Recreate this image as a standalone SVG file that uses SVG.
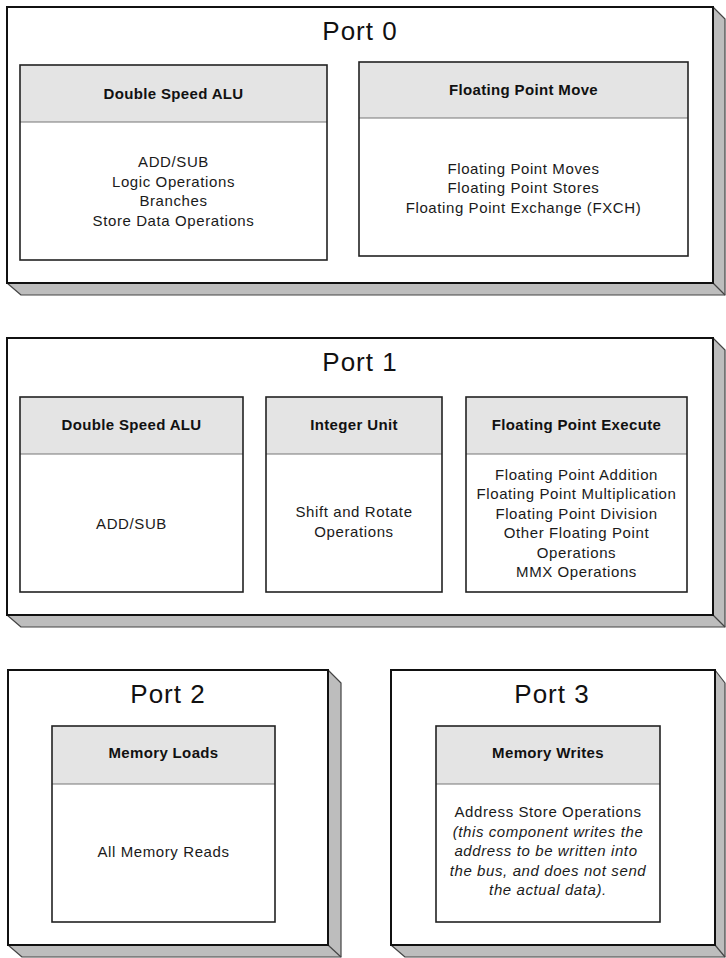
<svg xmlns="http://www.w3.org/2000/svg" width="726" height="958" viewBox="0 0 726 958">
<style>
.front{fill:#ffffff;stroke:#111;stroke-width:2}
.shadow{fill:#bdbdbd;stroke:#444;stroke-width:1.2;stroke-linejoin:round}
.edge{stroke:#444;stroke-width:1.2;fill:none}
.box{fill:#ffffff;stroke:#222;stroke-width:1.6}
.hdr{fill:#e4e4e4;stroke:none}
.div{stroke:#777;stroke-width:1.2}
.title{font-family:"Liberation Sans",Arial,sans-serif;font-size:26px;letter-spacing:1px;fill:#111;text-anchor:middle}
.h{font-family:"Liberation Sans",Arial,sans-serif;font-size:15px;font-weight:bold;letter-spacing:0.35px;fill:#111;text-anchor:middle}
.t{font-family:"Liberation Sans",Arial,sans-serif;font-size:15px;letter-spacing:0.6px;fill:#1a1a1a;text-anchor:middle}
.i{font-style:italic}
</style>
<rect width="726" height="958" fill="#ffffff"/>

<g id="port0">
  <polygon class="shadow" points="7,283 21,295 725,295 725,19 713,7 713,283"/>
  <line class="edge" x1="713" y1="283" x2="725" y2="295"/>
  <rect class="front" x="7" y="7" width="706" height="276"/>
  <text class="title" x="360" y="39.5">Port 0</text>
</g>
<g id="p0-alu">
  <rect class="hdr" x="20" y="65" width="307" height="57"/>
  <line class="div" x1="20" y1="122" x2="327" y2="122"/>
  <rect class="box" x="20" y="65" width="307" height="195" fill="none" style="fill:none"/>
  <text class="h" x="173.5" y="98.5">Double Speed ALU</text>
  <text class="t" x="173.5" y="167">ADD/SUB</text>
  <text class="t" x="173.5" y="186.5">Logic Operations</text>
  <text class="t" x="173.5" y="206">Branches</text>
  <text class="t" x="173.5" y="225.5">Store Data Operations</text>
</g>
<g id="p0-fpmove">
  <rect class="hdr" x="359" y="62" width="329" height="56"/>
  <line class="div" x1="359" y1="118" x2="688" y2="118"/>
  <rect class="box" x="359" y="62" width="329" height="194" style="fill:none"/>
  <text class="h" x="523.5" y="95">Floating Point Move</text>
  <text class="t" x="523.5" y="173.5">Floating Point Moves</text>
  <text class="t" x="523.5" y="193">Floating Point Stores</text>
  <text class="t" x="523.5" y="212.5">Floating Point Exchange (FXCH)</text>
</g>

<g id="port1">
  <polygon class="shadow" points="7,615 21,627 725,627 725,350 713,338 713,615"/>
  <line class="edge" x1="713" y1="615" x2="725" y2="627"/>
  <rect class="front" x="7" y="338" width="706" height="277"/>
  <text class="title" x="360" y="370.5">Port 1</text>
</g>
<g id="p1-alu">
  <rect class="hdr" x="20" y="397" width="223" height="57"/>
  <line class="div" x1="20" y1="454" x2="243" y2="454"/>
  <rect class="box" x="20" y="397" width="223" height="195" style="fill:none"/>
  <text class="h" x="131.5" y="430">Double Speed ALU</text>
  <text class="t" x="131.5" y="528.5">ADD/SUB</text>
</g>
<g id="p1-int">
  <rect class="hdr" x="266" y="397" width="176" height="57"/>
  <line class="div" x1="266" y1="454" x2="442" y2="454"/>
  <rect class="box" x="266" y="397" width="176" height="195" style="fill:none"/>
  <text class="h" x="354" y="430">Integer Unit</text>
  <text class="t" x="354" y="517">Shift and Rotate</text>
  <text class="t" x="354" y="536.5">Operations</text>
</g>
<g id="p1-fpexec">
  <rect class="hdr" x="466" y="397" width="221" height="57"/>
  <line class="div" x1="466" y1="454" x2="687" y2="454"/>
  <rect class="box" x="466" y="397" width="221" height="195" style="fill:none"/>
  <text class="h" x="576.5" y="430">Floating Point Execute</text>
  <text class="t" x="576.5" y="479.5">Floating Point Addition</text>
  <text class="t" x="576.5" y="499">Floating Point Multiplication</text>
  <text class="t" x="576.5" y="518.5">Floating Point Division</text>
  <text class="t" x="576.5" y="538">Other Floating Point</text>
  <text class="t" x="576.5" y="557.5">Operations</text>
  <text class="t" x="576.5" y="577">MMX Operations</text>
</g>

<g id="port2">
  <polygon class="shadow" points="8,945 22,957 341,957 341,683 328,670 328,945"/>
  <line class="edge" x1="328" y1="945" x2="341" y2="957"/>
  <rect class="front" x="8" y="670" width="320" height="275"/>
  <text class="title" x="168" y="703">Port 2</text>
</g>
<g id="p2-loads">
  <rect class="hdr" x="52" y="726" width="223" height="58"/>
  <line class="div" x1="52" y1="784" x2="275" y2="784"/>
  <rect class="box" x="52" y="726" width="223" height="196" style="fill:none"/>
  <text class="h" x="163.5" y="758">Memory Loads</text>
  <text class="t" x="163.5" y="856.5">All Memory Reads</text>
</g>

<g id="port3">
  <polygon class="shadow" points="391,945 405,957 725,957 725,683 715,670 715,945"/>
  <line class="edge" x1="715" y1="945" x2="725" y2="957"/>
  <rect class="front" x="391" y="670" width="324" height="275"/>
  <text class="title" x="552" y="703">Port 3</text>
</g>
<g id="p3-writes">
  <rect class="hdr" x="436" y="726" width="224" height="58"/>
  <line class="div" x1="436" y1="784" x2="660" y2="784"/>
  <rect class="box" x="436" y="726" width="224" height="196" style="fill:none"/>
  <text class="h" x="548" y="758">Memory Writes</text>
  <text class="t" x="548" y="817">Address Store Operations</text>
  <text class="t i" x="548" y="836.5">(this component writes the</text>
  <text class="t i" x="546" y="856">address to be written into</text>
  <text class="t i" x="548" y="875.5">the bus, and does not send</text>
  <text class="t i" x="548" y="895">the actual data).</text>
</g>

<g id="connectors"></g>
</svg>
